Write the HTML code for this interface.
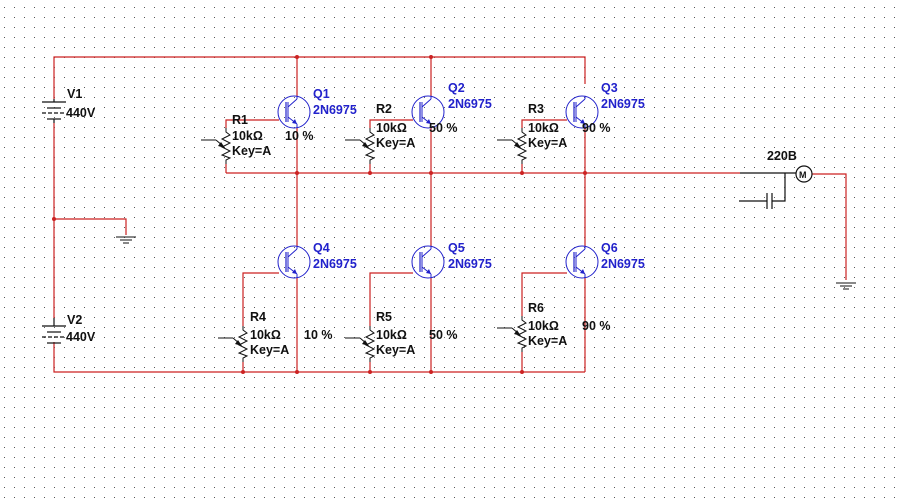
<!DOCTYPE html>
<html><head><meta charset="utf-8"><style>
html,body{margin:0;padding:0;background:#fff;width:898px;height:499px;overflow:hidden}
svg{display:block}
text{font-family:"Liberation Sans",sans-serif;font-weight:bold;font-size:12.5px}
.b{fill:#2222cc}
.k{fill:#111}
</style></head><body>
<svg width="898" height="499" viewBox="0 0 898 499" xmlns="http://www.w3.org/2000/svg">
<defs>
<pattern id="dots" width="10" height="10" patternUnits="userSpaceOnUse" x="4" y="7">
<rect x="0" y="0" width="1" height="1" fill="#555"/>
</pattern>
<g id="tr">
<circle cx="0" cy="0" r="16" fill="none" stroke="#2222cc" stroke-width="1"/>
<line x1="-8" y1="-10" x2="-8" y2="10" stroke="#2222cc" stroke-width="1.2"/>
<line x1="-6" y1="-10" x2="-6" y2="10" stroke="#2222cc" stroke-width="1"/>
<line x1="-6" y1="-5" x2="3" y2="-13" stroke="#2222cc"/>
<line x1="-6" y1="5" x2="3" y2="12" stroke="#2222cc"/>
<polygon points="3,12 -2,11 1,7" fill="#2222cc"/>
<line x1="3" y1="-13" x2="3" y2="-16" stroke="#2222cc"/>
<line x1="3" y1="12" x2="3" y2="16" stroke="#2222cc"/>
</g>
<g id="res">
<polyline points="0,0 0,4 4,7 -4,11 4,15 -4,19 4,23 -4,27 4,30 0,32 0,36" fill="none" stroke="#111" stroke-width="1"/>
<line x1="-25" y1="12" x2="-10" y2="12" stroke="#111"/>
<polyline points="-10,12 -3,18" fill="none" stroke="#111"/>
<polygon points="-1,20 -8,18 -5,14" fill="#111"/>
</g>
<g id="gnd">
<line x1="-10" y1="0" x2="10" y2="0" stroke="#111"/>
<line x1="-6" y1="3" x2="6" y2="3" stroke="#111"/>
<line x1="-3" y1="6" x2="3" y2="6" stroke="#111"/>
</g>
</defs>
<rect width="898" height="499" fill="url(#dots)"/>
<g stroke="#cc2222" stroke-width="1.2" fill="none">
<polyline points="54,99 54,57 585,57 585,84"/>
<line x1="54" y1="123" x2="54" y2="318"/>
<polyline points="54,219 126,219 126,235"/>
<polyline points="54,342 54,372 585,372"/>
<line x1="226" y1="173" x2="740" y2="173"/>
<polyline points="812,174 846,174 846,280"/>
<line x1="297" y1="57" x2="297" y2="96"/>
<line x1="297" y1="128" x2="297" y2="173"/>
<polyline points="279,120 226,120 226,128"/>
<line x1="226" y1="164" x2="226" y2="173"/>
<line x1="431" y1="57" x2="431" y2="96"/>
<line x1="431" y1="128" x2="431" y2="173"/>
<polyline points="413,120 370,120 370,128"/>
<line x1="370" y1="164" x2="370" y2="173"/>
<line x1="585" y1="128" x2="585" y2="173"/>
<polyline points="567,120 522,120 522,128"/>
<line x1="522" y1="164" x2="522" y2="173"/>
<line x1="297" y1="173" x2="297" y2="246"/>
<line x1="297" y1="278" x2="297" y2="372"/>
<polyline points="279,273 243,273 243,326"/>
<line x1="243" y1="362" x2="243" y2="372"/>
<line x1="431" y1="173" x2="431" y2="246"/>
<line x1="431" y1="278" x2="431" y2="372"/>
<polyline points="413,273 370,273 370,326"/>
<line x1="370" y1="362" x2="370" y2="372"/>
<line x1="585" y1="173" x2="585" y2="246"/>
<line x1="585" y1="278" x2="585" y2="372"/>
<polyline points="567,273 522,273 522,316"/>
<line x1="522" y1="352" x2="522" y2="372"/>
</g>
<g fill="#cc2222">
<circle cx="297" cy="57" r="2"/><circle cx="431" cy="57" r="2"/>
<circle cx="297" cy="173" r="2"/><circle cx="370" cy="173" r="2"/><circle cx="431" cy="173" r="2"/><circle cx="522" cy="173" r="2"/><circle cx="585" cy="173" r="2"/>
<circle cx="54" cy="219" r="2"/>
<circle cx="243" cy="372" r="2"/><circle cx="297" cy="372" r="2"/><circle cx="370" cy="372" r="2"/><circle cx="431" cy="372" r="2"/><circle cx="522" cy="372" r="2"/>
</g>
<g stroke="#111" stroke-width="1.2">
<line x1="42" y1="102" x2="66" y2="102"/><line x1="47" y1="108" x2="61" y2="108"/>
<line x1="42" y1="113" x2="66" y2="113" stroke-dasharray="4,2"/><line x1="47" y1="119" x2="61" y2="119"/>
<line x1="54" y1="99" x2="54" y2="102"/><line x1="54" y1="119" x2="54" y2="123"/>
<line x1="42" y1="326" x2="66" y2="326"/><line x1="47" y1="332" x2="61" y2="332"/>
<line x1="42" y1="337" x2="66" y2="337" stroke-dasharray="4,2"/><line x1="47" y1="343" x2="61" y2="343"/>
<line x1="54" y1="318" x2="54" y2="326"/>
</g>
<use href="#gnd" x="126" y="237"/>
<use href="#gnd" x="846" y="283"/>
<use href="#tr" x="294" y="112"/><use href="#tr" x="428" y="112"/><use href="#tr" x="582" y="112"/>
<use href="#tr" x="294" y="262"/><use href="#tr" x="428" y="262"/><use href="#tr" x="582" y="262"/>
<use href="#res" x="226" y="128"/><use href="#res" x="370" y="128"/><use href="#res" x="522" y="128"/>
<use href="#res" x="243" y="326"/><use href="#res" x="370" y="326"/><use href="#res" x="522" y="316"/>
<g stroke="#111" stroke-width="1.2" fill="none">
<line x1="740" y1="173" x2="796" y2="173"/>
<circle cx="804" cy="174" r="8" fill="#fff"/>
<polyline points="785,173 785,201 772,201"/>
<line x1="772" y1="193" x2="772" y2="209"/>
<line x1="767" y1="193" x2="767" y2="209"/>
<line x1="767" y1="201" x2="739" y2="201"/>
</g>
<text x="799" y="178" style="font-size:9px" class="k">M</text>
<text x="767" y="160" class="k">220B</text>
<text x="67" y="98" class="k">V1</text><text x="66" y="117" class="k">440V</text>
<text x="67" y="324" class="k">V2</text><text x="66" y="341" class="k">440V</text>
<text x="313" y="98" class="b">Q1</text><text x="313" y="114" class="b">2N6975</text>
<text x="448" y="92" class="b">Q2</text><text x="448" y="108" class="b">2N6975</text>
<text x="601" y="92" class="b">Q3</text><text x="601" y="108" class="b">2N6975</text>
<text x="313" y="252" class="b">Q4</text><text x="313" y="268" class="b">2N6975</text>
<text x="448" y="252" class="b">Q5</text><text x="448" y="268" class="b">2N6975</text>
<text x="601" y="252" class="b">Q6</text><text x="601" y="268" class="b">2N6975</text>
<text x="232" y="124" class="k">R1</text><text x="232" y="140" class="k">10kΩ</text><text x="232" y="155" class="k">Key=A</text>
<text x="376" y="113" class="k">R2</text><text x="376" y="132" class="k">10kΩ</text><text x="376" y="147" class="k">Key=A</text>
<text x="528" y="113" class="k">R3</text><text x="528" y="132" class="k">10kΩ</text><text x="528" y="147" class="k">Key=A</text>
<text x="250" y="321" class="k">R4</text><text x="250" y="339" class="k">10kΩ</text><text x="250" y="354" class="k">Key=A</text>
<text x="376" y="321" class="k">R5</text><text x="376" y="339" class="k">10kΩ</text><text x="376" y="354" class="k">Key=A</text>
<text x="528" y="312" class="k">R6</text><text x="528" y="330" class="k">10kΩ</text><text x="528" y="345" class="k">Key=A</text>
<text x="285" y="140" class="k">10 %</text>
<text x="429" y="132" class="k">50 %</text>
<text x="582" y="132" class="k">90 %</text>
<text x="304" y="339" class="k">10 %</text>
<text x="429" y="339" class="k">50 %</text>
<text x="582" y="330" class="k">90 %</text>
</svg>
</body></html>
